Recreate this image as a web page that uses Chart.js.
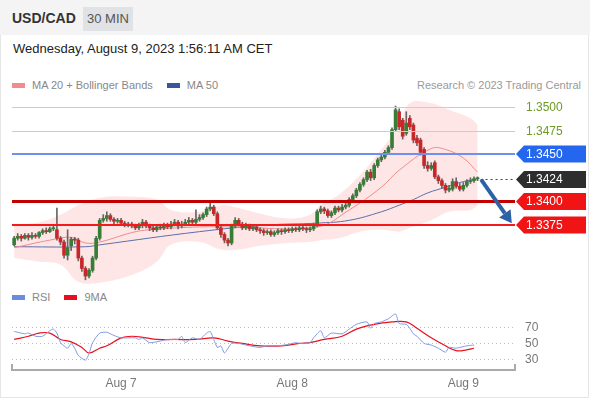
<!DOCTYPE html>
<html lang="en">
<head>
    <meta charset="UTF-8">
    <title>USD/CAD 30 MIN</title>
    <style>
        body {
            margin: 0;
            padding: 0;
            width: 590px;
            height: 400px;
            background: #fff;
            font-family: 'Liberation Sans', Arial, sans-serif;
            position: relative;
            overflow: hidden;
        }
        #frame {
            position: absolute;
            left: 0;
            top: 0;
            width: 587px;
            height: 396px;
            border: 1px solid #e6e6e6;
        }
        #header {
            position: absolute;
            left: 0;
            top: 0;
            width: 590px;
            height: 35px;
            background: #f4f4f4;
        }
        #header .pair {
            position: absolute;
            left: 12px;
            top: 10px;
            font-size: 14px;
            font-weight: bold;
            color: #333;
        }
        #header .tf {
            position: absolute;
            left: 83px;
            top: 7px;
            width: 50px;
            height: 24px;
            line-height: 24px;
            text-align: center;
            background: #e1e2e5;
            font-size: 13px;
            color: #555;
        }
        #date {
            position: absolute;
            left: 13px;
            top: 41px;
            font-size: 13px;
            color: #222;
        }
        .legend {
            position: absolute;
            left: 12px;
            font-size: 11px;
            color: #888;
            white-space: nowrap;
        }
        .legend i {
            display: inline-block;
            width: 13px;
            height: 5px;
            vertical-align: middle;
            margin-right: 7px;
            position: relative;
            top: -1px;
        }
        .legend span { margin-right: 11px; }
        #credit {
            position: absolute;
            right: 9px;
            top: 79px;
            font-size: 11px;
            color: #999;
        }
        #priceChart { position: absolute; left: 0; top: 95px; }
        #rsiChart { position: absolute; left: 0; top: 290px; }
    </style>
</head>
<body>
    <div id="frame"></div>
    <div id="header"><span class="pair">USD/CAD</span><span class="tf">30 MIN</span></div>
    <div id="date">Wednesday, August 9, 2023 1:56:11 AM CET</div>
    <div class="legend" style="top:79px">
        <i style="background:#f28b8b"></i><span>MA 20 + Bollinger Bands</span>
        <i style="background:#34589a"></i><span>MA 50</span>
    </div>
    <div id="credit">Research © 2023 Trading Central</div>
    <canvas id="priceChart" width="590" height="195"></canvas>
    <div class="legend" style="top:291px">
        <i style="background:#6b8be0"></i><span>RSI</span>
        <i style="background:#e8101c"></i><span>9MA</span>
    </div>
    <canvas id="rsiChart" width="590" height="110"></canvas>

    <script src="https://cdn.jsdelivr.net/npm/chart.js"></script>
    <script>
        // 30 min candles, index 0 = first bar on the left
        const opens = [
            1.3354, 1.3361, 1.3363, 1.3361, 1.3364, 1.3362, 1.3364, 1.3363, 1.3367, 1.3369,
            1.3368, 1.3371, 1.3370, 1.3361, 1.3357, 1.3343, 1.3353, 1.3360, 1.3359, 1.3340,
            1.3329, 1.3321, 1.3327, 1.3340, 1.3361, 1.3380, 1.3382, 1.3385, 1.3381, 1.3379,
            1.3380, 1.3377, 1.3375, 1.3376, 1.3374, 1.3372, 1.3375, 1.3378, 1.3374, 1.3372,
            1.3370, 1.3373, 1.3372, 1.3375, 1.3373, 1.3376, 1.3378, 1.3374, 1.3376, 1.3378,
            1.3380, 1.3378, 1.3381, 1.3383, 1.3386, 1.3392, 1.3394, 1.3387, 1.3372, 1.3365,
            1.3359, 1.3356, 1.3374, 1.3380, 1.3376, 1.3372, 1.3374, 1.3371, 1.3373, 1.3370,
            1.3369, 1.3367, 1.3368, 1.3365, 1.3367, 1.3369, 1.3368, 1.3370, 1.3369, 1.3371,
            1.3370, 1.3372, 1.3371, 1.3370, 1.3371, 1.3375, 1.3389, 1.3392, 1.3390, 1.3385,
            1.3388, 1.3393, 1.3391, 1.3394, 1.3396, 1.3402, 1.3406, 1.3412, 1.3418, 1.3423,
            1.3431, 1.3425, 1.3438, 1.3444, 1.3447, 1.3452, 1.3457, 1.3476, 1.3495, 1.3486,
            1.3472, 1.3488, 1.3481, 1.3467, 1.3465, 1.3455, 1.3438, 1.3435, 1.3441, 1.3426,
            1.3422, 1.3417, 1.3412, 1.3413, 1.3421, 1.3416, 1.3413, 1.3417, 1.3421, 1.3422,
            1.3424
        ];
        const highs = [
            1.3363, 1.3366, 1.3365, 1.3366, 1.3366, 1.3367, 1.3366, 1.3368, 1.3371, 1.3372,
            1.3373, 1.3375, 1.3393, 1.3363, 1.3359, 1.3370, 1.3362, 1.3362, 1.3361, 1.3342,
            1.3331, 1.3329, 1.3342, 1.3363, 1.3382, 1.3386, 1.3389, 1.3387, 1.3383, 1.3382,
            1.3382, 1.3379, 1.3378, 1.3378, 1.3376, 1.3377, 1.3381, 1.3380, 1.3376, 1.3374,
            1.3375, 1.3376, 1.3377, 1.3377, 1.3379, 1.3381, 1.3380, 1.3379, 1.3381, 1.3383,
            1.3382, 1.3391, 1.3386, 1.3388, 1.3394, 1.3398, 1.3396, 1.3389, 1.3374, 1.3367,
            1.3361, 1.3376, 1.3383, 1.3382, 1.3378, 1.3377, 1.3376, 1.3375, 1.3375, 1.3372,
            1.3371, 1.3370, 1.3370, 1.3369, 1.3371, 1.3371, 1.3372, 1.3372, 1.3373, 1.3373,
            1.3374, 1.3374, 1.3373, 1.3373, 1.3377, 1.3391, 1.3395, 1.3394, 1.3392, 1.3390,
            1.3395, 1.3395, 1.3397, 1.3399, 1.3404, 1.3408, 1.3414, 1.3420, 1.3425, 1.3433,
            1.3434, 1.3440, 1.3446, 1.3450, 1.3454, 1.3459, 1.3478, 1.3501, 1.3498, 1.3488,
            1.3495, 1.3491, 1.3483, 1.3470, 1.3467, 1.3457, 1.3442, 1.3441, 1.3443, 1.3428,
            1.3424, 1.3419, 1.3417, 1.3424, 1.3425, 1.3419, 1.3420, 1.3423, 1.3425, 1.3426,
            1.3426
        ];
        const lows = [
            1.3353, 1.3359, 1.3358, 1.3360, 1.3359, 1.3360, 1.3361, 1.3361, 1.3365, 1.3366,
            1.3367, 1.3369, 1.3359, 1.3354, 1.3340, 1.3338, 1.3348, 1.3355, 1.3337, 1.3326,
            1.3317, 1.3319, 1.3325, 1.3338, 1.3359, 1.3378, 1.3379, 1.3379, 1.3376, 1.3377,
            1.3375, 1.3373, 1.3373, 1.3372, 1.3370, 1.3370, 1.3372, 1.3372, 1.3369, 1.3368,
            1.3368, 1.3370, 1.3370, 1.3371, 1.3371, 1.3374, 1.3371, 1.3372, 1.3374, 1.3376,
            1.3375, 1.3376, 1.3379, 1.3381, 1.3384, 1.3390, 1.3385, 1.3370, 1.3362, 1.3356,
            1.3353, 1.3354, 1.3372, 1.3374, 1.3370, 1.3370, 1.3369, 1.3369, 1.3368, 1.3366,
            1.3364, 1.3365, 1.3363, 1.3363, 1.3365, 1.3365, 1.3366, 1.3367, 1.3367, 1.3368,
            1.3368, 1.3369, 1.3367, 1.3368, 1.3369, 1.3373, 1.3387, 1.3387, 1.3383, 1.3383,
            1.3386, 1.3389, 1.3389, 1.3392, 1.3394, 1.3400, 1.3404, 1.3410, 1.3416, 1.3421,
            1.3422, 1.3423, 1.3436, 1.3442, 1.3445, 1.3450, 1.3455, 1.3474, 1.3476, 1.3466,
            1.3470, 1.3476, 1.3462, 1.3459, 1.3449, 1.3435, 1.3432, 1.3433, 1.3424, 1.3419,
            1.3414, 1.3409, 1.3410, 1.3411, 1.3414, 1.3411, 1.3411, 1.3415, 1.3419, 1.3420,
            1.3422
        ];
        const closes = [
            1.3361, 1.3363, 1.3361, 1.3364, 1.3362, 1.3364, 1.3363, 1.3367, 1.3369, 1.3368,
            1.3371, 1.3372, 1.3361, 1.3357, 1.3343, 1.3351, 1.3360, 1.3359, 1.3340, 1.3329,
            1.3321, 1.3327, 1.3340, 1.3361, 1.3380, 1.3382, 1.3385, 1.3381, 1.3379, 1.3380,
            1.3377, 1.3375, 1.3376, 1.3374, 1.3372, 1.3375, 1.3378, 1.3374, 1.3372, 1.3370,
            1.3373, 1.3372, 1.3375, 1.3373, 1.3376, 1.3378, 1.3374, 1.3376, 1.3378, 1.3380,
            1.3378, 1.3381, 1.3383, 1.3386, 1.3392, 1.3394, 1.3387, 1.3372, 1.3365, 1.3359,
            1.3356, 1.3374, 1.3380, 1.3376, 1.3372, 1.3374, 1.3371, 1.3373, 1.3370, 1.3369,
            1.3367, 1.3368, 1.3365, 1.3367, 1.3369, 1.3368, 1.3370, 1.3369, 1.3371, 1.3370,
            1.3372, 1.3371, 1.3370, 1.3371, 1.3375, 1.3389, 1.3392, 1.3390, 1.3385, 1.3388,
            1.3393, 1.3391, 1.3394, 1.3396, 1.3402, 1.3406, 1.3412, 1.3418, 1.3423, 1.3431,
            1.3425, 1.3438, 1.3444, 1.3447, 1.3452, 1.3457, 1.3476, 1.3497, 1.3479, 1.3469,
            1.3483, 1.3479, 1.3465, 1.3462, 1.3452, 1.3438, 1.3435, 1.3438, 1.3426, 1.3422,
            1.3417, 1.3412, 1.3414, 1.3421, 1.3416, 1.3413, 1.3417, 1.3421, 1.3422, 1.3424,
            1.3424
        ];

        // Bollinger bands (read at sample bars)
        const bandIdx   = [0, 7, 13, 18, 24, 33, 40, 44, 52, 58, 63, 69, 77, 83, 86, 91, 97, 103, 108, 111, 117, 122, 128, 130];
        const bandUpper = [1.3375, 1.3378, 1.3386, 1.3396, 1.3404, 1.3405, 1.3402, 1.3391, 1.3389, 1.3396, 1.3393, 1.3387,
                           1.3382, 1.3386, 1.3396, 1.3407, 1.3428, 1.3455, 1.3481, 1.3504, 1.3504, 1.3497, 1.3488, 1.3481];
        const bandLower = [1.3340, 1.3336, 1.3333, 1.3315, 1.3314, 1.3322, 1.3336, 1.3354, 1.3357, 1.3349, 1.3349, 1.3353,
                           1.3356, 1.3357, 1.3359, 1.3361, 1.3368, 1.3370, 1.3368, 1.3372, 1.3380, 1.3389, 1.3391, 1.3396];

        const ma20Idx = [0, 10, 16, 20, 24, 33, 38, 52, 61, 85, 94, 103, 108, 117, 121, 126, 130];
        const ma20 = [1.3351, 1.3359, 1.3362, 1.3356, 1.3357, 1.3367, 1.3370, 1.3373, 1.3373, 1.3373, 1.3391, 1.3415,
                      1.3433, 1.3456, 1.3455, 1.3446, 1.3431];
        const ma50Idx = [0, 20, 24, 52, 71, 85, 94, 103, 108, 112, 116, 121, 126, 130];
        const ma50 = [1.3352, 1.3352, 1.3354, 1.3368, 1.3375, 1.3377, 1.3380, 1.3389, 1.3396, 1.3402, 1.3409, 1.3415, 1.3421, 1.3424];

        // Key levels on the right
        const levelValues = [1.3500, 1.3475, 1.3450, 1.3424, 1.3400, 1.3375];
        const levelLabels = ['1.3500', '1.3475', '1.3450', '1.3424', '1.3400', '1.3375'];
        const arrowPath = [[131, 1.3423], [139.6, 1.3377]];

        // RSI panel
        const rsiIdx = [0, 2, 3, 4, 6, 8, 10, 11, 12, 13, 14, 15, 16, 17, 18, 20, 21, 22, 24, 26, 28, 30, 34, 35, 36, 38,
                        41, 43, 46, 47, 48, 50, 52, 54, 55, 56, 57, 58, 59, 61, 63, 66, 69, 71, 73, 76, 79, 80, 83, 84,
                        86, 87, 89, 92, 94, 96, 99, 100, 101, 103, 105, 107, 108, 110, 111, 112, 113, 115, 117, 119, 121,
                        122, 124, 127, 129];
        const rsiVals = [65, 63, 62, 63, 59, 59, 66, 68, 63, 51, 47, 44, 50, 44, 35, 29, 37, 51, 63, 64, 60, 57, 57, 55, 57, 51,
                         53, 55, 55, 59, 51, 57, 55, 63, 65, 55, 45, 47, 38, 50, 50, 47, 45, 47, 47, 48, 51, 50, 51, 57,
                         66, 57, 63, 62, 68, 74, 77, 69, 75, 77, 81, 87, 75, 74, 69, 62, 59, 50, 48, 44, 39,
                         45, 44, 47, 48];
        const ma9Idx = [0, 4, 7, 10, 13, 16, 19, 21, 24, 26, 30, 33, 37, 40, 45, 51, 56, 60, 64, 69, 75, 80, 83, 87, 92,
                        96, 101, 106, 110, 113, 117, 121, 124, 127, 129];
        const ma9Vals = [55, 59, 63, 63, 55, 52, 45, 38, 44, 47, 57, 59, 57, 55, 55, 55, 57, 53, 50, 47, 47, 50, 51, 55, 59,
                         68, 74, 77, 77, 69, 57, 47, 41, 42, 44];
        const rsiTicks = [30, 50, 70];
        const dayTicks = [30, 78, 126];
        const dayLabels = ['Aug 7', 'Aug 8', 'Aug 9'];

        const GREEN = '#367d36';
        const RED = '#c8272a';
        const X_MIN = -0.6, X_MAX = 140.5;

        const pts = (xs, ys) => xs.map((x, k) => ({ x: x, y: ys[k] }));

        const levelStyles = [
            { line: '#c6d3b4', width: 1, text: '#6e9b26' },
            { line: '#c6d3b4', width: 1, text: '#6e9b26' },
            { line: '#6f90f0', width: 2, text: '#fff', box: '#2467ee' },
            { line: '#444', width: 1, dash: [2, 3], text: '#fff', box: '#2d2d2d', fromLast: true },
            { line: '#c30000', width: 3, text: '#fff', box: '#f01414' },
            { line: '#f21a1a', width: 2, text: '#fff', box: '#f01414' }
        ];

        const levelsPlugin = {
            id: 'levels',
            afterDatasetsDraw(chart) {
                const { ctx, chartArea, scales } = chart;
                ctx.save();
                levelValues.forEach((v, k) => {
                    const st = levelStyles[k];
                    const y = Math.round(scales.y.getPixelForValue(v)) + (st.width % 2 ? 0.5 : 0);
                    const x0 = st.fromLast ? scales.x.getPixelForValue(closes.length - 1) + 3 : chartArea.left;
                    ctx.beginPath();
                    ctx.setLineDash(st.dash || []);
                    ctx.strokeStyle = st.line;
                    ctx.lineWidth = st.width;
                    ctx.moveTo(x0, y);
                    ctx.lineTo(chartArea.right, y);
                    ctx.stroke();
                    ctx.setLineDash([]);
                    const bx = chartArea.right + 1;
                    if (st.box) {
                        ctx.fillStyle = st.box;
                        ctx.beginPath();
                        ctx.moveTo(bx, y);
                        ctx.lineTo(bx + 8, y - 8.5);
                        ctx.lineTo(586, y - 8.5);
                        ctx.lineTo(586, y + 8.5);
                        ctx.lineTo(bx + 8, y + 8.5);
                        ctx.closePath();
                        ctx.fill();
                    }
                    ctx.fillStyle = st.text;
                    ctx.font = '12px "Liberation Sans", Arial, sans-serif';
                    ctx.textBaseline = 'middle';
                    ctx.fillText(levelLabels[k], bx + 10, y + 0.5);
                });

                // forecast arrow
                const ax0 = scales.x.getPixelForValue(arrowPath[0][0]);
                const ay0 = scales.y.getPixelForValue(arrowPath[0][1]);
                const ax1 = scales.x.getPixelForValue(arrowPath[1][0]);
                const ay1 = scales.y.getPixelForValue(arrowPath[1][1]);
                const ang = Math.atan2(ay1 - ay0, ax1 - ax0);
                const head = 12;
                ctx.strokeStyle = '#2e62a6';
                ctx.fillStyle = '#2e62a6';
                ctx.lineWidth = 4;
                ctx.beginPath();
                ctx.moveTo(ax0, ay0);
                ctx.lineTo(ax1 - Math.cos(ang) * head, ay1 - Math.sin(ang) * head);
                ctx.stroke();
                ctx.beginPath();
                ctx.moveTo(ax1, ay1);
                ctx.lineTo(ax1 - Math.cos(ang) * head - Math.sin(ang) * 7, ay1 - Math.sin(ang) * head + Math.cos(ang) * 7);
                ctx.lineTo(ax1 - Math.cos(ang) * head + Math.sin(ang) * 7, ay1 - Math.sin(ang) * head - Math.cos(ang) * 7);
                ctx.closePath();
                ctx.fill();
                ctx.restore();
            }
        };

        const upBar = closes.map((c, i) => c >= opens[i]);

        new Chart(document.getElementById('priceChart'), {
            type: 'bar',
            data: {
                datasets: [
                    {
                        label: 'bodies',
                        data: closes.map((c, i) => ({ x: i, y: [opens[i], c] })),
                        backgroundColor: upBar.map(u => u ? GREEN : RED),
                        barThickness: 3,
                        minBarLength: 1,
                        grouped: false,
                        order: 1
                    },
                    {
                        label: 'wicks',
                        data: highs.map((h, i) => ({ x: i, y: [lows[i], h] })),
                        backgroundColor: '#666',
                        barThickness: 1,
                        grouped: false,
                        order: 2
                    },
                    {
                        type: 'line',
                        label: 'upper',
                        data: pts(bandIdx, bandUpper),
                        borderWidth: 0,
                        pointRadius: 0,
                        tension: 0.4,
                        fill: false,
                        order: 10
                    },
                    {
                        type: 'line',
                        label: 'lower',
                        data: pts(bandIdx, bandLower),
                        borderWidth: 0,
                        pointRadius: 0,
                        tension: 0.4,
                        fill: '-1',
                        backgroundColor: 'rgba(255, 140, 140, 0.22)',
                        order: 9
                    },
                    {
                        type: 'line',
                        label: 'MA 20',
                        data: pts(ma20Idx, ma20),
                        borderColor: '#f08a8a',
                        borderWidth: 1,
                        pointRadius: 0,
                        tension: 0.4,
                        order: 5
                    },
                    {
                        type: 'line',
                        label: 'MA 50',
                        data: pts(ma50Idx, ma50),
                        borderColor: '#5a6ea8',
                        borderWidth: 1,
                        pointRadius: 0,
                        tension: 0.4,
                        order: 5
                    }
                ]
            },
            options: {
                responsive: false,
                animation: false,
                layout: { padding: { left: 12, right: 75, top: 0, bottom: 0 } },
                plugins: { legend: { display: false }, tooltip: { enabled: false } },
                scales: {
                    x: { type: 'linear', display: false, min: X_MIN, max: X_MAX, offset: false },
                    y: { display: false, min: 1.33062, max: 1.35127 }
                }
            },
            plugins: [levelsPlugin]
        });

        const axisLinePlugin = {
            id: 'axisLine',
            afterDraw(chart) {
                const { ctx, chartArea } = chart;
                ctx.save();
                ctx.strokeStyle = '#aaa';
                ctx.lineWidth = 2;
                ctx.beginPath();
                ctx.moveTo(chartArea.left, chartArea.bottom - 6);
                ctx.lineTo(chartArea.left, chartArea.bottom);
                ctx.lineTo(chartArea.right, chartArea.bottom);
                ctx.lineTo(chartArea.right, chartArea.bottom - 6);
                ctx.stroke();
                ctx.restore();
            }
        };

        new Chart(document.getElementById('rsiChart'), {
            type: 'line',
            data: {
                datasets: [
                    {
                        label: 'RSI',
                        data: pts(rsiIdx, rsiVals),
                        borderColor: '#7f9be2',
                        borderWidth: 1,
                        pointRadius: 0,
                        tension: 0.2
                    },
                    {
                        label: '9MA',
                        data: pts(ma9Idx, ma9Vals),
                        borderColor: '#e8101c',
                        borderWidth: 1.2,
                        pointRadius: 0,
                        tension: 0.4
                    }
                ]
            },
            options: {
                responsive: false,
                animation: false,
                layout: { padding: { left: 12, right: 0, top: 15, bottom: 0 } },
                plugins: { legend: { display: false }, tooltip: { enabled: false } },
                scales: {
                    x: {
                        type: 'linear',
                        min: X_MIN,
                        max: X_MAX,
                        grid: { display: false, drawTicks: false },
                        border: { display: false },
                        afterBuildTicks: s => { s.ticks = dayTicks.map(v => ({ value: v })); },
                        afterFit: s => { s.height = 30; },
                        ticks: {
                            autoSkip: false,
                            maxRotation: 0,
                            padding: 6,
                            color: '#777',
                            font: { size: 12, family: '"Liberation Sans", Arial, sans-serif' },
                            callback: (v, k) => dayLabels[k]
                        }
                    },
                    y: {
                        position: 'right',
                        min: 16.67,
                        max: 95.45,
                        afterBuildTicks: s => { s.ticks = rsiTicks.map(v => ({ value: v })); },
                        afterFit: s => { s.width = 75; },
                        grid: { color: '#bdbdbd', drawTicks: false },
                        border: { display: false, dash: [1, 3] },
                        ticks: {
                            padding: 10,
                            color: '#777',
                            font: { size: 12, family: '"Liberation Sans", Arial, sans-serif' }
                        }
                    }
                }
            },
            plugins: [axisLinePlugin]
        });
    </script>
</body>
</html>
